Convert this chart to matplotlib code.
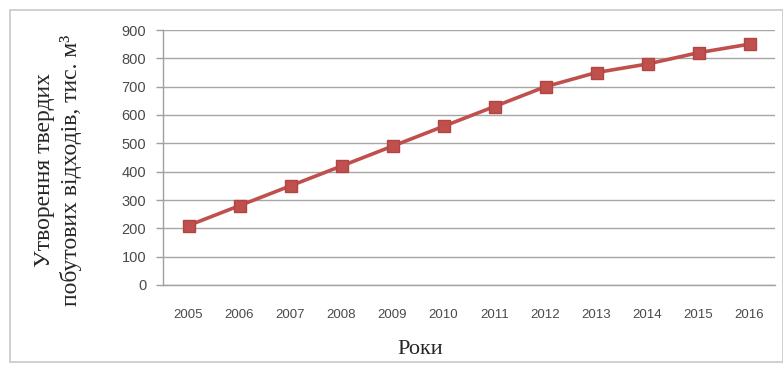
import matplotlib
matplotlib.use("Agg")
import matplotlib.pyplot as plt
from matplotlib.patches import Rectangle

years = ["2005", "2006", "2007", "2008", "2009", "2010", "2011", "2012", "2013", "2014", "2015", "2016"]
values = [210, 280, 350, 420, 490, 560, 630, 700, 750, 780, 820, 850]
y_ticks = [0, 100, 200, 300, 400, 500, 600, 700, 800, 900]

W, H = 783, 365
fig = plt.figure(figsize=(W / 100, H / 100), dpi=100)
fig.patch.set_facecolor("white")

# outer frame
fig.add_artist(Rectangle((10 / W, 3 / H), (W - 10) / W, (H - 13) / H, transform=fig.transFigure,
                         fill=False, edgecolor="#c8c8c8", linewidth=1.2))

ax = fig.add_axes([163 / W, 1 - 285 / H, (775 - 163) / W, (285 - 30) / H])
x = list(range(len(years)))
ax.plot(x, values, color="#C0504D", linewidth=2.6, marker="s", markersize=8,
        markerfacecolor="#C0504D", markeredgecolor="#B04542", zorder=3)

ax.set_xlim(-0.5, len(years) - 0.5)
ax.set_ylim(0, 900)
ax.set_yticks(y_ticks)
ax.set_yticklabels([str(v) for v in y_ticks], fontsize=10.5, family="Liberation Sans", color="#4a4a4a")
ax.set_xticks(x)
ax.set_xticklabels(years, fontsize=9.5, family="Liberation Sans", color="#4a4a4a")
ax.tick_params(axis="x", length=0, pad=17)
ax.tick_params(axis="y", length=5, width=1, color="#a0a0a0", pad=7)
ax.grid(axis="y", color="#a6a6a6", linewidth=1)
ax.set_axisbelow(True)
for s in ["top", "right"]:
    ax.spines[s].set_visible(False)
for s in ["left", "bottom"]:
    ax.spines[s].set_color("#a0a0a0")
    ax.spines[s].set_linewidth(1)

fig.text(58 / W, 1 - 170 / H, "Утворення твердих\nпобутових відходів, тис. м³", rotation=90,
         ha="center", va="center", fontsize=17, family="Liberation Serif", color="#262626",
         linespacing=1.3, multialignment="center")
fig.text(420 / W, 1 - 350 / H, "Роки", ha="center", va="center", fontsize=16,
         family="Liberation Serif", color="#262626")

fig.savefig("out.png", dpi=100, facecolor="white")
